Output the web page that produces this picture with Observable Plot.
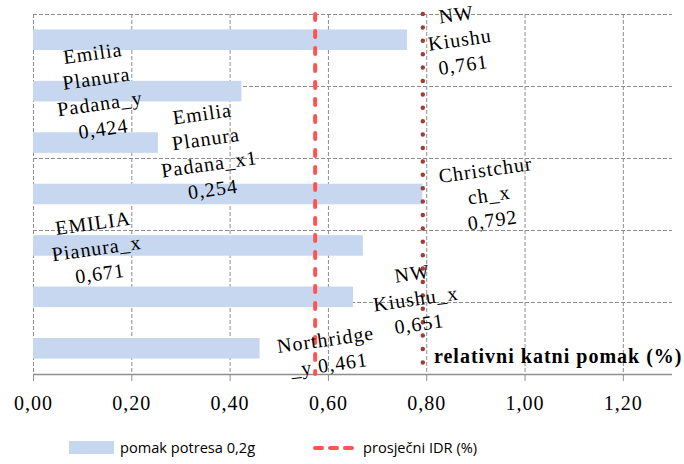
<!DOCTYPE html>
<html>
<head>
<meta charset="utf-8">
<script src="https://cdn.jsdelivr.net/npm/d3@7"></script>
<script src="https://cdn.jsdelivr.net/npm/@observablehq/plot@0.6"></script>
<style>
  html, body { margin: 0; padding: 0; background: #fff; }
  #chart svg text { letter-spacing: 1px; font-family: "Liberation Serif", "Times New Roman", serif; }
  #legend { position: relative; width: 684px; height: 39px; font-family: "Open Sans", sans-serif; font-size: 14.6px; color: #000; }
  #legend .sw { position: absolute; }
  #legend .tx { position: absolute; top: 12px; line-height: 20px; white-space: nowrap; }
</style>
</head>
<body>
<div id="chart"></div>
<div id="legend"></div>
<script>
// ---- data ----
const categories = ["NW Kiushu", "Emilia Planura Padana_y", "Emilia Planura Padana_x1", "Christchurch_x", "EMILIA Pianura_x", "NW Kiushu_x", "Northridge_y"];
const wrappedNames = ["NW\nKiushu", "Emilia\nPlanura\nPadana_y", "Emilia\nPlanura\nPadana_x1", "Christchur\nch_x", "EMILIA\nPianura_x", "NW\nKiushu_x", "Northridge\n_y"];
const valueSeparators = ["\n", "\n", "\n", "\n", "\n", "\n", " "];
const values = [0.761, 0.424, 0.254, 0.792, 0.671, 0.651, 0.461];
const averageIDR = 0.573;   // red dashed line
const maxIDR = 0.792;       // dark red dotted line
const xTickValues = [0, 0.2, 0.4, 0.6, 0.8, 1.0, 1.2];
const secondaryTicks = [0, 1, 2, 3, 4];   // horizontal gridlines (secondary axis 0..5)
const secondaryMax = 5;
const seriesName = "pomak potresa 0,2g";
const lineName = "prosječni IDR (%)";
const axisTitle = "relativni katni pomak (%)";

// ---- layout (label offsets from bar end, px) ----
const labelOffsets = [[52, -2], [-144, -2], [49, 7], [66, -1], [-267, 1], [62, 0], [67, 2]];
const labelRotation = -8;

const fmt = v => v.toFixed(3).replace(".", ",");
const tickFmt = v => v.toFixed(2).replace(".", ",");

const rows = categories.map((c, i) => ({
  name: c, value: values[i], i,
  label: wrappedNames[i] + valueSeparators[i] + fmt(values[i])
}));
const n = categories.length;

const barColor = "#C6D7EF";
const gridColor = "#8E8E8E";
const serif = "Liberation Serif";

const labelMarks = rows.map((d, k) => Plot.text([d], {
  x: "value",
  y: r => r.i + 0.5,
  text: "label",
  dx: labelOffsets[k][0],
  dy: labelOffsets[k][1],
  rotate: labelRotation,
  textAnchor: "middle",
  lineAnchor: "middle",
  lineHeight: 1.27,
  fontSize: 20,
  fontFamily: serif,
  fill: "#000",
  ariaLabel: "datalabel"
}));

const chart = Plot.plot({
  width: 684,
  height: 425,
  marginLeft: 33,
  marginRight: 12,
  marginTop: 14,
  marginBottom: 51,
  style: { fontFamily: serif, fontSize: "20px", background: "#fff" },
  x: { domain: [0, 1.3], axis: null, label: null },
  y: { domain: [0, n], reverse: true, axis: null, label: null },
  marks: [
    Plot.ruleX(xTickValues, { stroke: gridColor, strokeWidth: 1, strokeDasharray: "4,2" }),
    Plot.ruleY(secondaryTicks, { y: t => t * n / secondaryMax, stroke: gridColor, strokeWidth: 1, strokeDasharray: "4,2" }),
    Plot.rect(rows, { x1: () => 0, x2: "value", y1: d => d.i + 0.3, y2: d => d.i + 0.7, fill: barColor }),
    Plot.ruleY([n], { stroke: "#8E8E8E", strokeWidth: 1.4 }),
    Plot.axisX(xTickValues, { tickFormat: tickFmt, tickSize: 7, tickPadding: 14, fontSize: 20, fontFamily: serif, stroke: "#8E8E8E", fill: "#000", label: null }),
    Plot.ruleX([averageIDR], { stroke: "#FF5252", strokeWidth: 4, strokeDasharray: "6,11", strokeLinecap: "round" }),
    Plot.ruleX([maxIDR], { stroke: "#A03C39", strokeWidth: 4.5, strokeDasharray: "0,13.4", strokeLinecap: "round" }),
    ...labelMarks,
    Plot.text([axisTitle], { frameAnchor: "bottom-right", textAnchor: "end", lineAnchor: "bottom", dx: 10, dy: -12, fontWeight: "bold", fontSize: 20, fontFamily: serif, fill: "#000" })
  ]
});
document.getElementById("chart").appendChild(chart);

// make sure the data labels carry the rotation
d3.select(chart).selectAll('g[aria-label="datalabel"] text').each(function () {
  const t = this.getAttribute("transform") || "";
  if (!/rotate/.test(t)) this.setAttribute("transform", (t + ` rotate(${labelRotation})`).trim());
});

// ---- legend (below the SVG) ----
const legend = document.getElementById("legend");
legend.innerHTML = `
  <div class="sw" style="left:69px; top:16px; width:45px; height:13px; background:${barColor};"></div>
  <div class="tx" style="left:120px;">${seriesName}</div>
  <svg class="sw" style="left:311px; top:16px;" width="46" height="14">
    <line x1="4" y1="7" x2="42" y2="7" stroke="#FF5252" stroke-width="4" stroke-linecap="round" stroke-dasharray="7,8"/>
  </svg>
  <div class="tx" style="left:363px;">${lineName}</div>`;
</script>
</body>
</html>
